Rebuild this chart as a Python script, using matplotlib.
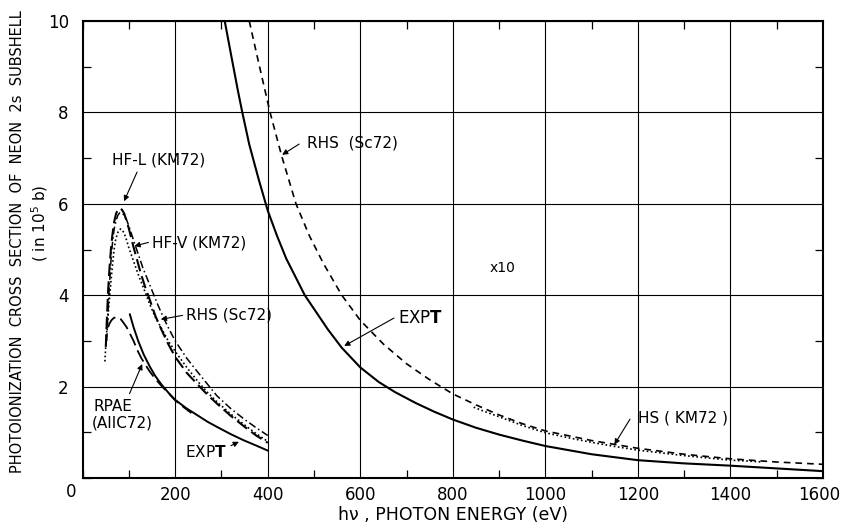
import numpy as np
import matplotlib.pyplot as plt
import matplotlib.transforms as mtransforms
from matplotlib.ticker import MultipleLocator

# valores (eV, secao de choque)
# --- lado esquerdo (escala real) ---
ev_hfl = [50, 51, 52, 53.5, 55, 58, 61, 64, 68, 72, 76, 80, 85, 90, 95, 100, 110, 125, 135,
          145, 157, 170, 185, 200, 225, 250, 270, 290, 320, 350, 375, 400]
hfl = [2.87, 3.15, 3.4, 3.75, 4.1, 4.6, 5.0, 5.3, 5.6, 5.78, 5.87, 5.9, 5.87, 5.78, 5.62, 5.45,
       5.05, 4.5, 4.18, 3.9, 3.55, 3.25, 2.93, 2.65, 2.3, 2.03, 1.82, 1.63, 1.36, 1.12, 0.93, 0.77]

ev_hfv = [48, 50, 52, 54, 56, 59, 62, 65, 68, 71, 75, 78, 82, 86, 90, 95, 100, 107, 115, 122,
          130, 145, 157, 170, 185, 200, 225, 250, 270, 290, 320, 350, 375, 400]
hfv = [2.55, 2.9, 3.2, 3.45, 3.7, 4.05, 4.4, 4.72, 5.0, 5.2, 5.35, 5.42, 5.45, 5.42, 5.35, 5.2,
       5.03, 4.83, 4.6, 4.4, 4.2, 3.8, 3.52, 3.28, 3.0, 2.77, 2.42, 2.1, 1.87, 1.67, 1.4, 1.16,
       0.97, 0.8]

ev_rhs_l = [52, 53.5, 55, 57, 59, 62, 65, 68, 72, 76, 80, 85, 90, 95, 102, 110, 120, 130, 140,
            150, 162, 175, 187, 200, 225, 250, 270, 290, 320, 350, 375, 400]
rhs_l = [3.0, 3.35, 3.7, 4.1, 4.4, 4.9, 5.2, 5.45, 5.62, 5.75, 5.8, 5.8, 5.74, 5.65, 5.45, 5.2,
         4.9, 4.6, 4.35, 4.1, 3.8, 3.5, 3.25, 3.0, 2.62, 2.3, 2.05, 1.8, 1.52, 1.28, 1.1, 0.93]

ev_rpae = [55, 58, 62, 67, 72, 77, 82, 88, 95, 102, 110, 118, 127, 136, 145, 157, 170, 185,
           200, 217, 235]
rpae = [3.3, 3.38, 3.45, 3.5, 3.52, 3.51, 3.48, 3.4, 3.3, 3.16, 3.0, 2.8, 2.62, 2.47, 2.33,
        2.17, 2.02, 1.86, 1.7, 1.56, 1.42]

ev_exp_l = [102, 110, 120, 132, 145, 157, 170, 185, 200, 225, 250, 270, 290, 320, 347, 375, 400]
exp_l = [3.58, 3.3, 3.0, 2.7, 2.44, 2.23, 2.05, 1.87, 1.71, 1.52, 1.36, 1.23, 1.12, 0.96, 0.83,
         0.71, 0.6]

# --- lado direito (x10) ---
ev_exp_r = [307, 320, 335, 345, 360, 380, 400, 420, 440, 460, 480, 500, 530, 560, 600, 640,
            675, 720, 760, 800, 850, 900, 950, 1000, 1100, 1200, 1300, 1400, 1500, 1600]
exp_r = [10.0, 9.3, 8.5, 8.0, 7.3, 6.55, 5.85, 5.3, 4.8, 4.4, 4.0, 3.7, 3.25, 2.85, 2.42, 2.1,
         1.88, 1.64, 1.45, 1.28, 1.1, 0.95, 0.82, 0.7, 0.52, 0.39, 0.32, 0.27, 0.21, 0.15]

ev_rhs_r = [360, 380, 405, 430, 461, 490, 520, 560, 600, 650, 700, 750, 800, 850, 900, 950,
            1000, 1100, 1200, 1300, 1400, 1500, 1600]
rhs_r = [10.0, 9.1, 8.0, 7.05, 6.0, 5.3, 4.7, 4.0, 3.45, 2.93, 2.5, 2.15, 1.84, 1.6, 1.38,
         1.19, 1.03, 0.82, 0.65, 0.52, 0.42, 0.35, 0.30]

ev_hs = [845, 870, 900, 950, 1000, 1050, 1100, 1150, 1200, 1250, 1300, 1350, 1400, 1440, 1470]
hs = [1.55, 1.45, 1.34, 1.15, 0.99, 0.88, 0.78, 0.69, 0.61, 0.55, 0.49, 0.44, 0.39, 0.37, 0.35]

fig = plt.figure(figsize=(8.41, 5.25), dpi=100)
ax = fig.add_axes([0.0983, 0.0895, 0.8803, 0.8705])

ax.plot(ev_hfl, hfl, color='k', lw=1.5, ls=(0, (6, 2.5)))
ax.plot(ev_hfv, hfv, color='k', lw=1.2, ls=(0, (1, 1.5)))
ax.plot(ev_rhs_l, rhs_l, color='k', lw=1.1, ls=(0, (5, 2, 1, 2)))
ax.plot(ev_rpae, rpae, color='k', lw=1.3, ls=(0, (7, 3)))
ax.plot(ev_exp_l, exp_l, color='k', lw=1.4)

ax.plot(ev_exp_r, exp_r, color='k', lw=1.5)
ax.plot(ev_rhs_r, rhs_r, color='k', lw=1.2, ls=(0, (4, 3)))
ax.plot(ev_hs, hs, color='k', lw=1.2, ls=(0, (1, 1.5)))

ax.set_xlim(0, 1600)
ax.set_ylim(0, 10)
ax.xaxis.set_minor_locator(MultipleLocator(100))
ax.yaxis.set_minor_locator(MultipleLocator(1))
ax.grid(True, which='major', color='k', lw=0.8)
ax.tick_params(which='major', length=0, labelsize=12)
ax.tick_params(axis='x', which='major', pad=6)
ax.tick_params(axis='y', which='major', pad=10)
ax.tick_params(which='minor', direction='in', length=6, width=0.9,
               top=True, right=True)
for s in ax.spines.values():
    s.set_linewidth(1.5)

xt = list(range(200, 1601, 200))
ax.set_xticks(xt)
ax.set_xticklabels([str(v) for v in xt])
yt = [2, 4, 6, 8, 10]
ax.set_yticks(yt)
ax.set_yticklabels([str(v) for v in yt])
ax.text(-25, -0.3, '0', ha='center', va='center', fontsize=12)

# o ultimo rotulo encosta na borda direita
lab = ax.get_xticklabels()[-1]
lab.set_transform(lab.get_transform() +
                  mtransforms.ScaledTranslation(-3 / 72, 0, fig.dpi_scale_trans))

ax.set_xlabel('h\u03bd , PHOTON ENERGY (eV)', fontsize=12.5, labelpad=1)
fig.text(0.021, 0.54, 'PHOTOIONIZATION  CROSS  SECTION  OF  NEON  2s  SUBSHELL',
         rotation=90, ha='center', va='center', fontsize=10.5)
fig.text(0.047, 0.575, '( in 10$^5$ b)', rotation=90, ha='center', va='center',
         fontsize=11)

arw = dict(arrowstyle='-|>', color='k', lw=0.8, mutation_scale=8)
fs = 11

ax.text(63, 6.96, 'HF-L (KM72)', fontsize=fs, va='center')
ax.annotate('', xy=(87, 6.0), xytext=(120, 6.75), arrowprops=arw)

ax.text(149, 5.14, 'HF-V (KM72)', fontsize=fs, va='center')
ax.annotate('', xy=(106, 5.06), xytext=(148, 5.17), arrowprops=arw)

ax.text(224, 3.56, 'RHS (Sc72)', fontsize=fs, va='center')
ax.annotate('', xy=(163, 3.46), xytext=(222, 3.57), arrowprops=arw)

ax.text(23, 1.56, 'RPAE', fontsize=fs, va='center')
ax.text(19, 1.2, '(AIIC72)', fontsize=fs, va='center')
ax.annotate('', xy=(131, 2.55), xytext=(99, 1.79), arrowprops=arw)

ax.text(221, 0.56, r'EXP$\mathbf{T}$', fontsize=fs, va='center')
ax.annotate('', xy=(343, 0.82), xytext=(315, 0.68), arrowprops=arw)

ax.text(484, 7.32, 'RHS  (Sc72)', fontsize=fs, va='center')
ax.annotate('', xy=(426, 7.04), xytext=(473, 7.34), arrowprops=arw)

ax.text(880, 4.6, 'x10', fontsize=10, va='center')

ax.text(682, 3.5, r'EXP$\mathbf{T}$', fontsize=12, va='center')
ax.annotate('', xy=(560, 2.86), xytext=(678, 3.53), arrowprops=arw)

ax.text(1200, 1.31, 'HS ( KM72 )', fontsize=fs, va='center')
ax.annotate('', xy=(1146, 0.68), xytext=(1186, 1.34), arrowprops=arw)

fig.savefig('out.png', dpi=100)
